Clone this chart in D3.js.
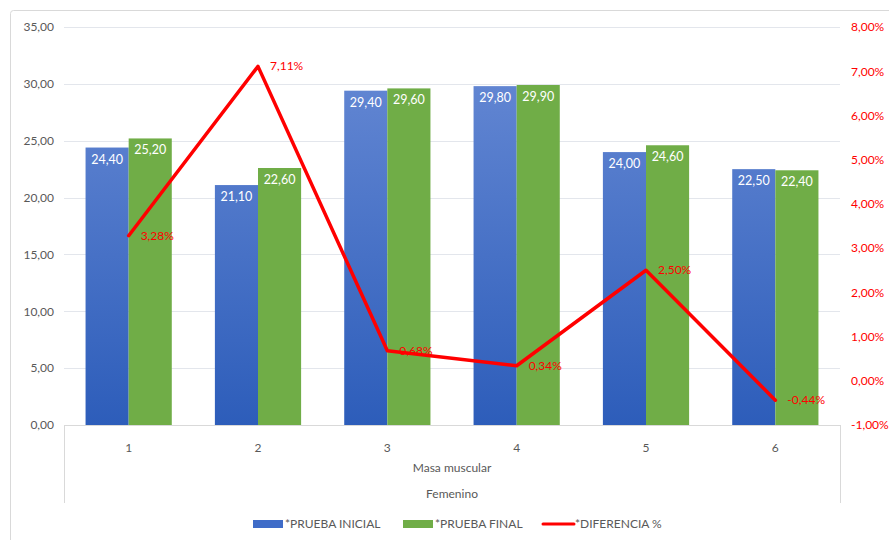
<!DOCTYPE html>
<html>
<head>
<meta charset="utf-8">
<script src="https://cdn.jsdelivr.net/npm/d3@7"></script>
<style>
  html, body { margin: 0; padding: 0; background: #fff; }
  svg { display: block; font-family: Lato, "Open Sans", sans-serif; }
</style>
</head>
<body>
<svg id="chart" width="889" height="540"></svg>
<script>
// Masa muscular, Femenino: initial vs final test and percentage difference
const categories = ["1", "2", "3", "4", "5", "6"];
const pruebaInicial = [24.40, 21.10, 29.40, 29.80, 24.00, 22.50];
const pruebaFinal = [25.20, 22.60, 29.60, 29.90, 24.60, 22.40];
const diferencia = [3.28, 7.11, 0.68, 0.34, 2.50, -0.44];
const leftTicks = [0, 5, 10, 15, 20, 25, 30, 35];
const rightTicks = [-1, 0, 1, 2, 3, 4, 5, 6, 7, 8];
const seriesNames = ["*PRUEBA INICIAL", "*PRUEBA FINAL", "*DIFERENCIA %"];
const groupLabel = "Masa muscular";
const subgroupLabel = "Femenino";

const svg = d3.select("#chart");
const plot = { left: 64, right: 840, top: 27, bottom: 425 };
// two decimals, comma separator, plain hyphen for negatives
const fmt = v => (v < 0 ? "-" : "") + Math.abs(v).toFixed(2).replace(".", ",");
const axisGrey = "#595959";
const red = "#FF0000";

// outer chart frame
svg.append("rect")
  .attr("x", 10.5).attr("y", 10.5).attr("width", 900).attr("height", 560)
  .attr("rx", 3).attr("fill", "#fff").attr("stroke", "#D9D9D9");

const x = d3.scaleBand().domain(categories)
  .range([plot.left, plot.right]).paddingInner(1 / 3).paddingOuter(1 / 6);
const xSub = d3.scaleBand().domain([0, 1]).range([0, x.bandwidth()]);
const yL = d3.scaleLinear().domain([0, 35]).range([plot.bottom, plot.top]);
const yR = d3.scaleLinear().domain([-1, 8]).range([plot.bottom, plot.top]);

// gradient for the blue series
const defs = svg.append("defs");
const grad = defs.append("linearGradient").attr("id", "blueGrad")
  .attr("gradientUnits", "userSpaceOnUse")
  .attr("x1", 0).attr("x2", 0).attr("y1", plot.top).attr("y2", plot.bottom);
grad.append("stop").attr("offset", "0%").attr("stop-color", "#6A8CD6");
grad.append("stop").attr("offset", "100%").attr("stop-color", "#2D5DBA");

// horizontal gridlines
svg.append("g").selectAll("line").data(leftTicks.filter(t => t > 0)).join("line")
  .attr("x1", plot.left).attr("x2", plot.right)
  .attr("y1", d => Math.round(yL(d)) + 0.5).attr("y2", d => Math.round(yL(d)) + 0.5)
  .attr("stroke", "#E3E6EC").attr("stroke-width", 1.2);

// left axis
const leftAxis = svg.append("g").attr("transform", `translate(${plot.left - 10},0)`)
  .call(d3.axisLeft(yL).tickValues(leftTicks).tickFormat(fmt).tickSize(0).tickPadding(0));
leftAxis.select(".domain").remove();
leftAxis.selectAll("text").attr("fill", axisGrey).attr("font-size", 12).attr("font-family", "Lato, sans-serif");

// right axis
const rightAxis = svg.append("g").attr("transform", `translate(${plot.right + 11},0)`)
  .call(d3.axisRight(yR).tickValues(rightTicks).tickFormat(d => fmt(d) + "%").tickSize(0).tickPadding(0));
rightAxis.select(".domain").remove();
rightAxis.selectAll("text").attr("fill", red).attr("font-size", 12).attr("font-family", "Lato, sans-serif");

// bars
const series = [
  { values: pruebaInicial, fill: "url(#blueGrad)" },
  { values: pruebaFinal, fill: "#70AD47" }
];
series.forEach((s, i) => {
  const g = svg.append("g");
  g.selectAll("rect").data(s.values).join("rect")
    .attr("x", (d, j) => x(categories[j]) + xSub(i))
    .attr("width", xSub.bandwidth())
    .attr("y", d => yL(d))
    .attr("height", d => yL(0) - yL(d))
    .attr("fill", s.fill);
  g.selectAll("text").data(s.values).join("text")
    .attr("x", (d, j) => x(categories[j]) + xSub(i) + xSub.bandwidth() / 2)
    .attr("y", d => yL(d) + 16)
    .attr("text-anchor", "middle")
    .attr("fill", "#fff").attr("font-size", 12.5)
    .text(d => fmt(d));
});

// category axis: baseline and multi-level label box
const cat = svg.append("g");
cat.append("line").attr("x1", plot.left).attr("x2", plot.right)
  .attr("y1", plot.bottom + 0.5).attr("y2", plot.bottom + 0.5).attr("stroke", "#D9D9D9");
[plot.left, plot.right].forEach(px => {
  cat.append("line").attr("x1", px + 0.5).attr("x2", px + 0.5)
    .attr("y1", plot.bottom).attr("y2", 503).attr("stroke", "#D9D9D9");
});
cat.selectAll("text.cat").data(categories).join("text").attr("class", "cat")
  .attr("x", d => x(d) + x.bandwidth() / 2).attr("y", 452)
  .attr("text-anchor", "middle").attr("fill", axisGrey).attr("font-size", 12)
  .text(d => d);
const mid = (plot.left + plot.right) / 2;
cat.append("text").attr("x", mid).attr("y", 472).attr("text-anchor", "middle")
  .attr("fill", axisGrey).attr("font-size", 12).text(groupLabel);
cat.append("text").attr("x", mid).attr("y", 498).attr("text-anchor", "middle")
  .attr("fill", axisGrey).attr("font-size", 12).text(subgroupLabel);

// percentage difference line
const cx = (d, j) => x(categories[j]) + x.bandwidth() / 2;
const line = d3.line().x((d, j) => cx(d, j)).y(d => yR(d));
svg.append("path").datum(diferencia)
  .attr("d", line).attr("fill", "none").attr("stroke", red)
  .attr("stroke-width", 3.5).attr("stroke-linejoin", "round").attr("stroke-linecap", "round");
svg.append("g").selectAll("text").data(diferencia).join("text")
  .attr("x", (d, j) => cx(d, j) + 12)
  .attr("y", d => yR(d) + 4)
  .attr("fill", red).attr("font-size", 12)
  .text(d => fmt(d) + "%");

// legend
const legend = svg.append("g").attr("font-size", 12).attr("fill", axisGrey);
const legendItems = [
  { x: 253, kind: "rect", color: "#3F6CC8" },
  { x: 403, kind: "rect", color: "#70AD47" },
  { x: 543, kind: "line", color: red }
];
legendItems.forEach((it, i) => {
  if (it.kind === "rect") {
    legend.append("rect").attr("x", it.x).attr("y", 520).attr("width", 30).attr("height", 8)
      .attr("fill", it.color);
  } else {
    legend.append("line").attr("x1", it.x).attr("x2", it.x + 31).attr("y1", 524).attr("y2", 524)
      .attr("stroke", it.color).attr("stroke-width", 3).attr("stroke-linecap", "round");
  }
  legend.append("text").attr("x", it.x + 32).attr("y", 528).attr("fill", axisGrey)
    .text(seriesNames[i]);
});
</script>
</body>
</html>
